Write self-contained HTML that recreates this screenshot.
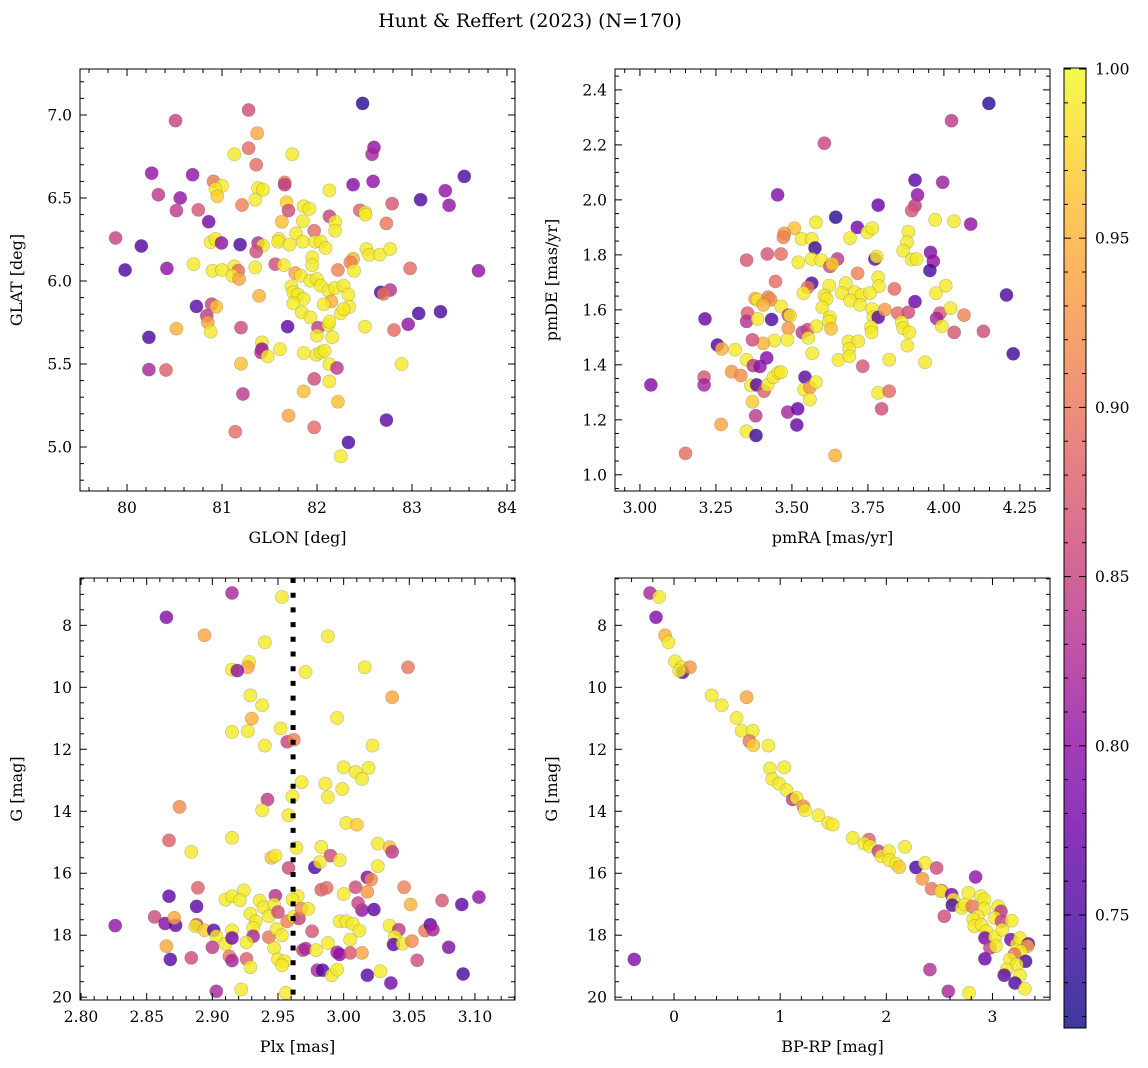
<!DOCTYPE html>
<html><head><meta charset="utf-8">
<style>
html,body{margin:0;padding:0;background:#fff;}
svg{display:block;font-family:"DejaVu Serif","Liberation Serif",serif;}
</style></head>
<body>
<svg id="fig" width="1148" height="1068" viewBox="0 0 1148 1068" xmlns="http://www.w3.org/2000/svg">
<defs>
<linearGradient id="plasma" x1="0" y1="1" x2="0" y2="0">
<stop offset="0" stop-color="#0d0887"/><stop offset="0.1" stop-color="#41049d"/><stop offset="0.2" stop-color="#6a00a8"/><stop offset="0.3" stop-color="#8f0da4"/><stop offset="0.4" stop-color="#b12a90"/><stop offset="0.5" stop-color="#cc4778"/><stop offset="0.6" stop-color="#e16462"/><stop offset="0.7" stop-color="#f2844b"/><stop offset="0.8" stop-color="#fca636"/><stop offset="0.9" stop-color="#fcce25"/><stop offset="1" stop-color="#f0f921"/>
</linearGradient>
</defs>
<text x="530" y="27" text-anchor="middle" font-size="19">Hunt &amp; Reffert (2023) (N=170)</text>
</svg>
<script>
// ---------- data ----------
const p1_glon=[82.48,81.28,80.51,81.37,81.28,81.36,81.13,81.74,82.6,82.58,80.26,80.69,83.55,82.38,82.59,80.91,81.0,80.93,80.95,81.38,81.43,81.35,81.66,81.66,82.13,83.35,80.33,80.56,83.09,83.39,81.21,81.68,81.70,81.86,81.92,80.52,80.75,82.45,82.505,82.51,82.79,82.13,82.19,82.19,81.85,81.63,80.86,82.73,81.97,79.88,80.15,80.88,80.93,80.995,81.19,81.38,81.43,81.36,81.6,81.59,81.71,81.78,81.85,81.98,82.04,82.09,82.52,82.55,82.66,82.77,79.98,80.42,80.70,80.90,81.0,81.13,81.17,81.11,81.18,81.35,81.56,81.65,81.95,81.95,81.77,81.83,81.93,82.0,82.22,82.38,82.35,82.39,82.98,83.70,81.73,81.75,81.80,82.04,82.12,82.19,82.28,82.33,82.15,81.86,81.75,82.07,82.67,82.77,82.70,80.73,80.89,80.94,80.84,80.85,80.88,80.52,80.23,81.2,81.39,81.69,81.84,81.93,82.25,82.34,82.28,82.01,82.0,82.12,82.13,82.16,82.505,82.81,82.96,83.07,83.30,82.89,81.42,81.42,81.41,81.48,81.61,81.86,81.995,82.04,82.08,82.13,82.21,80.23,80.41,81.2,81.97,82.13,81.86,81.22,82.22,81.70,81.14,81.97,82.73,82.33,82.25];
const p1_glat=[7.07,7.03,6.966,6.89,6.80,6.70,6.763,6.763,6.805,6.763,6.65,6.64,6.63,6.58,6.60,6.60,6.574,6.554,6.51,6.56,6.55,6.49,6.594,6.58,6.546,6.544,6.52,6.50,6.49,6.456,6.458,6.474,6.424,6.45,6.434,6.424,6.428,6.426,6.414,6.40,6.466,6.39,6.357,6.303,6.361,6.357,6.357,6.347,6.303,6.259,6.211,6.233,6.253,6.229,6.219,6.229,6.213,6.177,6.253,6.237,6.219,6.287,6.237,6.237,6.237,6.199,6.193,6.157,6.159,6.193,6.066,6.076,6.102,6.062,6.066,6.088,6.062,6.032,6.012,6.082,6.102,6.096,6.143,6.096,6.048,6.032,6.002,6.012,6.066,6.133,6.112,6.062,6.076,6.062,5.968,5.932,5.918,5.972,5.942,5.958,5.972,5.918,5.877,5.892,5.865,5.859,5.932,5.946,5.922,5.847,5.861,5.845,5.791,5.751,5.695,5.713,5.661,5.719,5.910,5.725,5.811,5.781,5.805,5.845,5.831,5.719,5.671,5.735,5.755,5.661,5.725,5.705,5.739,5.805,5.815,5.5,5.630,5.590,5.570,5.546,5.590,5.566,5.556,5.570,5.580,5.498,5.476,5.466,5.464,5.502,5.410,5.395,5.335,5.319,5.273,5.189,5.092,5.118,5.162,5.028,4.944];
const p1_prob=[.73,.86,.85,.94,.89,.89,.99,.99,.80,.82,.80,.80,.75,.79,.80,.90,.99,.99,.97,.99,.99,.99,.91,.84,.99,.80,.84,.80,.75,.80,.91,.97,.86,.99,.99,.84,.87,.88,.99,.99,.87,.85,.99,.99,.99,.96,.78,.90,.89,.85,.75,.99,.99,.80,.75,.83,.99,.86,.99,.99,.99,.99,.99,.99,.99,.99,.99,.99,.99,.99,.75,.80,.99,.99,.99,.99,.89,.99,.94,.99,.86,.99,.99,.99,.94,.99,.99,.99,.91,.95,.91,.99,.89,.80,.99,.99,.99,.99,.99,.99,.99,.99,.95,.99,.99,.99,.75,.83,.90,.76,.85,.96,.84,.94,.99,.95,.75,.86,.95,.76,.99,.99,.99,.99,.99,.84,.99,.99,.99,.99,.99,.89,.80,.75,.75,.99,.99,.80,.83,.99,.99,.99,.99,.99,.99,.99,.84,.82,.88,.96,.86,.99,.96,.84,.96,.94,.89,.89,.76,.75];

const p2_pmra=[4.148,4.025,3.607,3.905,3.996,3.453,3.913,3.784,3.905,3.894,3.644,3.971,4.033,4.088,3.715,3.579,3.508,3.748,3.764,3.475,3.472,3.532,3.565,3.576,3.691,3.883,3.879,3.866,3.351,3.419,3.464,3.521,3.565,3.596,3.625,3.650,3.633,3.773,3.779,3.894,3.910,3.956,3.965,3.954,3.716,3.784,3.786,3.446,3.565,3.552,3.538,3.623,3.677,3.664,3.707,3.729,3.757,3.607,3.614,3.691,3.724,3.600,3.837,3.974,4.006,3.905,3.379,3.387,3.422,3.430,3.406,3.464,3.488,3.494,3.354,3.351,3.387,3.433,3.214,3.625,3.622,3.629,3.764,3.768,3.784,3.806,3.848,3.883,3.861,3.866,3.886,3.987,3.976,4.022,4.066,3.993,4.034,4.130,4.206,4.228,3.534,3.552,3.554,3.581,3.488,3.485,3.442,3.406,3.370,3.255,3.269,3.313,3.351,3.373,3.395,3.417,3.567,3.686,3.718,3.760,3.762,3.688,3.653,3.689,3.820,3.880,3.938,3.733,3.302,3.332,3.211,3.211,3.036,3.365,3.384,3.408,3.420,3.439,3.455,3.464,3.543,3.540,3.559,3.579,3.559,3.784,3.820,3.795,3.370,3.381,3.486,3.519,3.516,3.267,3.351,3.382,3.150,3.642];
const p2_pmde=[2.351,2.288,2.206,2.072,2.064,2.018,2.018,1.981,1.979,1.961,1.937,1.927,1.922,1.912,1.900,1.918,1.897,1.882,1.897,1.878,1.864,1.858,1.858,1.825,1.861,1.884,1.846,1.815,1.781,1.803,1.803,1.773,1.785,1.781,1.758,1.785,1.767,1.785,1.794,1.783,1.785,1.809,1.777,1.743,1.733,1.718,1.686,1.703,1.697,1.682,1.661,1.688,1.697,1.661,1.664,1.654,1.661,1.652,1.640,1.634,1.618,1.609,1.676,1.661,1.688,1.630,1.640,1.637,1.646,1.637,1.618,1.613,1.581,1.579,1.588,1.558,1.567,1.565,1.567,1.573,1.558,1.531,1.603,1.573,1.573,1.601,1.588,1.591,1.555,1.533,1.518,1.588,1.569,1.606,1.581,1.540,1.518,1.522,1.654,1.440,1.518,1.528,1.498,1.540,1.533,1.491,1.488,1.478,1.491,1.472,1.458,1.455,1.418,1.397,1.394,1.425,1.442,1.485,1.485,1.537,1.518,1.458,1.418,1.431,1.419,1.470,1.409,1.395,1.375,1.361,1.355,1.327,1.327,1.325,1.327,1.304,1.327,1.355,1.371,1.373,1.355,1.310,1.318,1.337,1.274,1.298,1.304,1.240,1.266,1.215,1.228,1.240,1.181,1.183,1.158,1.143,1.078,1.070];
const p2_prob=[.73,.84,.85,.76,.81,.79,.80,.77,.84,.87,.73,.99,.99,.80,.78,.99,.96,.99,.99,.93,.91,.99,.99,.74,.99,.99,.99,.99,.87,.87,.89,.99,.99,.99,.86,.84,.97,.76,.99,.99,.99,.79,.80,.75,.91,.99,.99,.89,.75,.90,.99,.99,.99,.99,.99,.99,.99,.99,.99,.99,.99,.99,.89,.99,.99,.77,.94,.99,.91,.92,.95,.99,.85,.99,.88,.83,.99,.75,.77,.99,.99,.96,.99,.99,.76,.93,.89,.86,.99,.99,.99,.87,.82,.99,.91,.99,.87,.86,.75,.74,.84,.85,.99,.99,.93,.99,.99,.95,.86,.75,.95,.99,.99,.84,.80,.79,.99,.99,.99,.99,.99,.99,.99,.99,.99,.99,.99,.87,.93,.92,.87,.82,.79,.99,.76,.88,.99,.99,.99,.99,.76,.99,.93,.99,.99,.99,.89,.86,.97,.84,.82,.77,.77,.94,.99,.74,.89,.95];

const p3_plx=[2.915,2.953,2.865,2.894,2.988,2.940,2.928,2.927,2.915,2.919,2.971,3.016,3.049,3.037,2.929,2.938,2.930,2.995,2.915,2.927,2.952,2.940,2.957,2.962,3.022,3.000,3.009,3.019,3.014,2.968,2.986,2.999,2.988,2.961,2.942,2.938,2.958,2.875,3.002,3.010,2.867,2.915,2.884,3.026,3.035,3.037,2.964,2.983,2.945,2.948,2.990,2.997,2.978,2.982,2.958,3.026,3.018,3.021,2.889,2.924,2.867,2.910,2.915,2.921,2.948,2.936,2.939,2.947,2.965,2.961,2.983,2.987,3.009,3.018,3.000,3.046,3.051,3.075,3.090,3.103,2.888,2.856,2.864,2.872,2.871,2.888,2.887,2.894,2.901,2.903,2.910,2.915,2.915,2.929,2.933,2.931,2.931,2.926,2.943,2.950,2.943,2.949,2.953,2.957,2.962,2.966,2.968,2.973,3.014,3.023,3.011,2.997,3.002,3.007,3.012,3.005,2.976,3.035,3.042,3.039,3.038,3.045,3.052,3.062,3.066,3.068,3.080,2.826,2.865,2.868,2.884,2.900,2.913,2.915,2.926,2.929,2.947,2.950,2.955,2.953,2.969,2.971,2.979,2.988,2.995,2.997,3.005,3.014,2.980,2.984,2.991,2.995,3.018,3.028,3.036,3.056,3.091,2.903,2.922,2.956];
const p3_g=[6.957,7.086,7.742,8.322,8.355,8.548,9.183,9.355,9.430,9.462,9.505,9.355,9.355,10.32,10.26,10.58,11.01,10.99,11.44,11.42,11.33,11.88,11.76,11.69,11.88,12.58,12.73,12.60,12.96,13.06,13.11,13.28,13.55,13.52,13.62,13.97,14.13,13.86,14.38,14.43,14.94,14.86,15.31,15.04,15.16,15.31,15.18,15.15,15.50,15.43,15.43,15.58,15.81,15.64,15.83,15.77,16.13,16.20,16.47,16.55,16.74,16.85,16.74,16.87,16.72,16.88,17.10,17.01,16.74,16.85,16.53,16.47,16.45,16.60,16.67,16.45,17.01,16.88,17.01,16.77,17.07,17.41,17.62,17.68,17.44,17.66,17.71,17.84,17.84,18.03,18.28,17.84,18.09,17.31,17.55,17.76,18.03,18.23,17.39,17.25,18.06,17.80,18.00,17.55,17.41,17.46,17.15,17.15,17.19,17.17,16.96,17.55,17.55,17.63,17.85,18.14,17.87,17.69,17.82,18.05,18.30,18.27,18.19,17.85,17.66,17.82,18.39,17.69,18.35,18.78,18.73,18.39,18.68,18.82,18.76,19.03,18.41,18.78,18.84,18.97,18.48,18.43,18.48,18.25,18.55,18.62,18.57,18.57,19.13,19.13,19.29,19.11,19.29,19.16,19.54,18.81,19.25,19.81,19.75,19.86];
const p3_prob=[.82,.99,.79,.94,.99,.99,.99,.94,.99,.80,.99,.99,.90,.94,.99,.99,.95,.99,.99,.99,.99,.99,.85,.91,.99,.99,.99,.99,.99,.99,.99,.99,.99,.99,.84,.99,.99,.92,.99,.97,.88,.99,.99,.99,.96,.84,.99,.99,.96,.99,.86,.99,.75,.99,.86,.99,.79,.92,.88,.99,.76,.99,.99,.99,.83,.99,.99,.99,.99,.99,.88,.89,.86,.93,.99,.91,.95,.87,.76,.80,.76,.86,.79,.76,.94,.86,.99,.97,.76,.99,.99,.99,.78,.99,.99,.99,.82,.99,.99,.86,.90,.99,.99,.91,.99,.85,.92,.99,.80,.76,.85,.99,.99,.99,.99,.99,.87,.99,.84,.99,.76,.99,.92,.90,.76,.82,.79,.80,.94,.76,.86,.84,.90,.82,.88,.99,.99,.99,.99,.99,.85,.82,.99,.99,.82,.80,.87,.94,.82,.76,.99,.99,.76,.99,.78,.86,.75,.82,.99,.99];

const p4_bprp=[-0.226,-0.141,-0.170,-0.085,-0.053,0.009,0.072,0.082,0.151,0.050,0.355,0.449,0.684,0.590,0.637,0.741,0.710,0.747,0.889,0.904,1.039,0.926,0.989,1.061,1.118,1.155,1.218,1.234,1.360,1.454,1.495,1.683,1.837,1.793,1.846,1.925,1.956,2.025,2.028,2.091,2.122,2.176,2.279,2.364,2.474,2.339,2.841,2.427,2.521,2.515,2.615,2.631,2.622,2.710,2.741,2.772,2.810,2.892,2.923,2.923,2.860,2.819,2.829,2.898,2.945,2.929,3.024,2.976,3.033,3.055,3.080,3.024,3.086,3.181,3.093,3.174,3.228,3.259,3.338,3.331,3.268,3.206,3.165,3.312,3.228,3.133,3.111,3.259,3.212,3.306,2.546,2.929,2.411,2.584,2.779,-0.374];
const p4_g=[6.957,7.086,7.742,8.322,8.548,9.161,9.355,9.516,9.355,9.462,10.26,10.58,10.32,10.99,11.40,11.40,11.74,11.87,11.88,12.62,12.58,12.96,13.11,13.32,13.62,13.57,13.84,13.97,14.13,14.38,14.43,14.86,14.91,15.04,15.13,15.29,15.45,15.29,15.58,15.69,15.80,15.15,15.81,15.67,15.83,16.18,16.12,16.50,16.56,16.58,16.69,16.85,17.03,17.12,17.01,16.63,17.07,16.74,16.85,17.15,17.39,17.49,17.71,17.66,17.87,18.09,18.06,18.41,18.35,17.07,17.23,17.44,17.55,17.53,17.82,18.14,18.30,18.09,18.28,18.35,18.52,18.62,18.78,18.84,18.95,19.11,19.29,19.30,19.54,19.73,17.39,18.76,19.11,19.81,19.86,18.78];
const p4_prob=[.82,.99,.79,.95,.99,.99,.99,.76,.93,.99,.99,.99,.94,.99,.99,.99,.90,.97,.99,.99,.99,.99,.99,.99,.84,.99,.92,.99,.99,.99,.99,.99,.88,.99,.99,.85,.99,.99,.99,.99,.97,.99,.75,.99,.86,.93,.80,.90,.91,.99,.79,.99,.75,.99,.99,.99,.90,.99,.99,.99,.99,.99,.99,.99,.99,.78,.99,.85,.99,.99,.84,.99,.85,.99,.99,.78,.99,.99,.77,.94,.99,.90,.99,.75,.99,.99,.76,.99,.75,.99,.86,.77,.83,.82,.99,.79];

const cbarTicks=[0.75,0.80,0.85,0.90,0.95,1.00];
const VMIN=0.7166, VMAX=1.0003;

// ---------- helpers ----------
const NS="http://www.w3.org/2000/svg";
const svg=document.getElementById('fig');
function mk(tag,attrs,parent){const e=document.createElementNS(NS,tag);for(const k in attrs)e.setAttribute(k,attrs[k]);(parent||svg).appendChild(e);return e;}
const PL=[[13,8,135],[65,4,157],[106,0,168],[143,13,164],[177,42,144],[204,71,120],[225,100,98],[242,132,75],[252,166,54],[252,206,37],[240,249,33]];
function plasma(v){if(typeof v!=='number'||isNaN(v))v=0.99;let t=(v-VMIN)/(VMAX-VMIN);t=Math.max(0,Math.min(1,t))*10;const i=Math.min(9,Math.floor(t)),f=t-i;const a=PL[i],b=PL[i+1];return 'rgb('+[0,1,2].map(k=>Math.round(a[k]+(b[k]-a[k])*f)).join(',')+')';}

function fmt(v,d){return v.toFixed(d);}

function panel(cfg){
  const {name,L,R,T,B,xmin,xmax,ymin,ymax,invert,xMaj,xMin,yMaj,yMin,xd,yd,xs,ys,ps,xlabel,ylabel}=cfg;
  const g=mk('g',{});
  
  
  const X=v=>L+(v-xmin)/(xmax-xmin)*(R-L);
  const Y=v=>invert? T+(v-ymin)/(ymax-ymin)*(B-T) : B-(v-ymin)/(ymax-ymin)*(B-T);
  const clip='clip-'+name;
  const cp=mk('clipPath',{id:clip},g);mk('rect',{x:L,y:T,width:R-L,height:B-T},cp);
  const pts=mk('g',{'clip-path':'url(#'+clip+')'},g);
  
  
  const n=Math.min(xs.length,ys.length);
  for(let i=0;i<n;i++){
    const c=mk('circle',{cx:X(xs[i]).toFixed(1),cy:Y(ys[i]).toFixed(1),r:6.6,fill:plasma(ps[i]),'fill-opacity':0.8,stroke:'#555','stroke-opacity':0.35,'stroke-width':0.6},pts);
    
    
  }
  if(cfg.extra) cfg.extra(g,X,Y);
  const ax=mk('g',{stroke:'#000','stroke-width':1},g);
  
  
  mk('rect',{x:L,y:T,width:R-L,height:B-T,fill:'none'},ax);
  const eps=1e-9;
  const nx0=Math.ceil(xmin/xMin-eps), nx1=Math.floor(xmax/xMin+eps);
  for(let k=nx0;k<=nx1;k++){
    const v=k*xMin;
    const r=v/xMaj;const isMaj=Math.abs(r-Math.round(r))<1e-6;const len=isMaj?7:4;const x=X(v);
    mk('line',{x1:x,x2:x,y1:B,y2:B-len},ax);mk('line',{x1:x,x2:x,y1:T,y2:T+len},ax);
    if(isMaj){const t=mk('text',{x:x,y:B+22,'text-anchor':'middle','font-size':15.5,stroke:'none',fill:'#000'},g);t.textContent=fmt(Math.round(r)*xMaj,xd);
      }
  }
  const ya=Math.min(ymin,ymax),yb=Math.max(ymin,ymax);
  const ny0=Math.ceil(ya/yMin-eps), ny1=Math.floor(yb/yMin+eps);
  for(let k=ny0;k<=ny1;k++){
    const v=k*yMin;
    const r=v/yMaj;const isMaj=Math.abs(r-Math.round(r))<1e-6;const len=isMaj?7:4;const y=Y(v);
    mk('line',{x1:L,x2:L+len,y1:y,y2:y},ax);mk('line',{x1:R,x2:R-len,y1:y,y2:y},ax);
    if(isMaj){const t=mk('text',{x:L-8,y:y+5.5,'text-anchor':'end','font-size':15.5,stroke:'none',fill:'#000'},g);t.textContent=fmt(Math.round(r)*yMaj,yd);
      }
  }
  const xl=mk('text',{x:(L+R)/2,y:B+52,'text-anchor':'middle','font-size':16},g);xl.textContent=xlabel;
  
  const yx=L-58,yy=(T+B)/2;
  const yl=mk('text',{x:yx,y:yy,'text-anchor':'middle','font-size':16,transform:'rotate(-90 '+yx+' '+yy+')'},g);yl.textContent=ylabel;
  
}

panel({name:'glon-glat-panel',L:80,R:515,T:69,B:491,xmin:79.505,xmax:84.084,ymin:4.735,ymax:7.277,xMaj:1,xMin:0.2,yMaj:0.5,yMin:0.1,xd:0,yd:1,xs:p1_glon,ys:p1_glat,ps:p1_prob,xlabel:'GLON [deg]',ylabel:'GLAT [deg]'});
panel({name:'proper-motion-panel',L:615,R:1050,T:69,B:491,xmin:2.918,xmax:4.349,ymin:0.941,ymax:2.476,xMaj:0.25,xMin:0.05,yMaj:0.2,yMin:0.05,xd:2,yd:1,xs:p2_pmra,ys:p2_pmde,ps:p2_prob,xlabel:'pmRA [mas/yr]',ylabel:'pmDE [mas/yr]'});
panel({name:'plx-g-panel',L:80,R:515,T:578,B:1000,xmin:2.7992,xmax:3.1305,ymin:6.473,ymax:20.09,invert:true,xMaj:0.05,xMin:0.01,yMaj:2,yMin:0.5,xd:2,yd:0,xs:p3_plx,ys:p3_g,ps:p3_prob,xlabel:'Plx [mas]',ylabel:'G [mag]',
  extra:(g,X,Y)=>{const l=mk('line',{x1:X(2.9615),x2:X(2.9615),y1:578,y2:1000,stroke:'#000','stroke-width':5,'stroke-dasharray':'5 9.7'},g);
    }});
panel({name:'cmd-panel',L:615,R:1050,T:578,B:1000,xmin:-0.556,xmax:3.542,ymin:6.473,ymax:20.09,invert:true,xMaj:1,xMin:0.2,yMaj:2,yMin:0.5,xd:0,yd:0,xs:p4_bprp,ys:p4_g,ps:p4_prob,xlabel:'BP-RP [mag]',ylabel:'G [mag]'});

// colorbar
const CT=68,CB=1028,CL=1064,CR=1086;
const cg=mk('g',{});


mk('rect',{x:CL,y:CT,width:CR-CL,height:CB-CT,fill:'url(#plasma)','fill-opacity':0.8},cg);
mk('rect',{x:CL,y:CT,width:CR-CL,height:CB-CT,fill:'none',stroke:'#000','stroke-width':1},cg);
const CY=v=>CB-(v-VMIN)/(VMAX-VMIN)*(CB-CT);
for(let k=72;k<=100;k++){const v=k/100;const y=CY(v);const maj=k%5===0;
  mk('line',{x1:CR,x2:CR-(maj?7:4),y1:y,y2:y,stroke:'#000'},cg);mk('line',{x1:CL,x2:CL+(maj?7:4),y1:y,y2:y,stroke:'#000'},cg);}
cbarTicks.forEach(v=>{const t=mk('text',{x:CR+9,y:CY(v)+5.5,'font-size':15.5},cg);t.textContent=v.toFixed(2);
  });
</script>
</body></html>
